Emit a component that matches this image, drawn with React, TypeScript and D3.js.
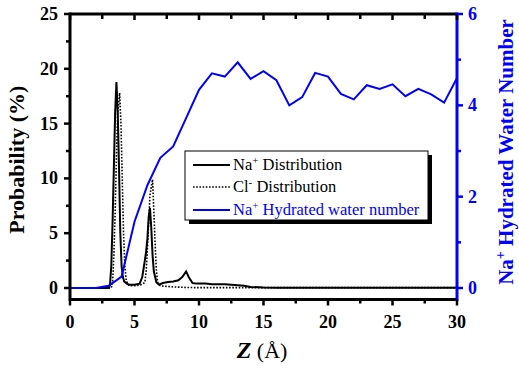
import React from "react";
import * as d3 from "d3";

// ---------- data ----------
const naZ = [0, 3.0, 3.1, 3.2, 3.3, 3.4, 3.5, 3.6, 3.7, 3.8, 3.9, 4.0, 4.1, 4.2, 4.4, 4.6, 5.0, 5.4, 5.6, 5.8, 5.9, 6.0, 6.1, 6.2, 6.3, 6.4, 6.5, 6.6, 6.7, 6.9, 7.2, 7.6, 8.0, 8.4, 8.7, 9.0, 9.2, 9.5, 9.8, 10.5, 11.0, 12.0, 12.5, 13.0, 13.5, 14.0, 15.0, 16.0, 30.0];
const naP = [0, 0, 0.3, 2, 6, 11, 16, 18.8, 16, 11, 5, 2, 1.0, 0.6, 0.4, 0.3, 0.3, 0.4, 1.0, 2.5, 3.3, 4.5, 6.5, 7.3, 5.5, 3, 1.5, 1.0, 0.5, 0.3, 0.45, 0.55, 0.6, 0.7, 1.0, 1.5, 1.0, 0.45, 0.4, 0.4, 0.35, 0.35, 0.3, 0.25, 0.2, 0.1, 0.05, 0.03, 0.03];

const clZ = [0, 3.2, 3.3, 3.4, 3.5, 3.6, 3.7, 3.85, 3.95, 4.05, 4.15, 4.25, 4.35, 4.45, 4.6, 5.0, 5.5, 5.8, 5.9, 6.0, 6.1, 6.2, 6.4, 6.5, 6.6, 6.7, 6.8, 7.0, 8.0, 9.0, 10.0, 30.0];
const clP = [0, 0, 0.5, 3, 7, 12, 16, 17.8, 15, 10, 5, 2, 0.8, 0.4, 0.2, 0.2, 0.3, 0.5, 1.5, 3.5, 6, 8.5, 9.9, 7, 4, 1.5, 0.5, 0.2, 0.1, 0.05, 0.03, 0.03];

const hydZ = [0, 1, 2, 3, 4, 5, 6, 7, 8, 9, 10, 11, 12, 13, 14, 15, 16, 17, 18, 19, 20, 21, 22, 23, 24, 25, 26, 27, 28, 29, 30];
const hydN = [0, 0, 0, 0.05, 0.25, 1.45, 2.25, 2.85, 3.1, 3.72, 4.34, 4.7, 4.63, 4.94, 4.58, 4.75, 4.55, 4.0, 4.18, 4.71, 4.63, 4.25, 4.13, 4.44, 4.36, 4.46, 4.2, 4.36, 4.24, 4.06, 4.6];

const xTicks = [0, 5, 10, 15, 20, 25, 30];
const xMinor = [2.5, 7.5, 12.5, 17.5, 22.5, 27.5];
const yLTicks = [0, 5, 10, 15, 20, 25];
const yLMinor = [2.5, 7.5, 12.5, 17.5, 22.5];
const yRTicks = [0, 2, 4, 6];
const yRMinor = [1, 3, 5];

const BLUE = "#0000ff";
const SERIF = "'Liberation Serif', 'Times New Roman', serif";

export default function App() {
  const x = d3.scaleLinear().domain([0, 30]).range([70, 457]);
  const yL = d3.scaleLinear().domain([0, 25]).range([288, 14]);
  const yR = d3.scaleLinear().domain([0, 6]).range([288, 14]);
  const top = 14;
  const bottom = 299.5;
  const left = x(0);
  const right = x(30);

  const lineL = d3
    .line<[number, number]>()
    .x((d) => x(d[0]))
    .y((d) => yL(d[1]));
  const lineR = d3
    .line<[number, number]>()
    .x((d) => x(d[0]))
    .y((d) => yR(d[1]));

  const naPts = naZ.map((z, i) => [z, naP[i]] as [number, number]);
  const clPts = clZ.map((z, i) => [z, clP[i]] as [number, number]);
  const hydPts = hydZ.map((z, i) => [z, hydN[i]] as [number, number]);

  const lg = { x: 185, y: 151, w: 243, h: 69 };

  return (
    <svg
      width={519}
      height={370}
      style={{ position: "absolute", left: 0, top: 0, background: "#fff" }}
      fontFamily={SERIF}
    >
      <rect x={0} y={0} width={519} height={370} fill="#fff" />
      {/* data lines */}
      <path d={lineL(clPts) || ""} fill="none" stroke="#000" strokeWidth={1.6} strokeDasharray="1.6,1.6" />
      <path d={lineL(naPts) || ""} fill="none" stroke="#000" strokeWidth={2} />
      <path d={lineR(hydPts) || ""} fill="none" stroke={BLUE} strokeWidth={2} />

      {/* frame */}
      <line x1={left} x2={right} y1={top} y2={top} stroke="#000" strokeWidth={3} />
      <line x1={left} x2={right} y1={bottom} y2={bottom} stroke="#000" strokeWidth={3} />
      <line x1={left} x2={left} y1={top - 1.5} y2={bottom + 1.5} stroke="#000" strokeWidth={3} />
      <line x1={right} x2={right} y1={top - 1.5} y2={bottom + 1.5} stroke={BLUE} strokeWidth={3} />

      {/* bottom ticks */}
      {xTicks.map((t) => (
        <g key={"xb" + t}>
          <line x1={x(t)} x2={x(t)} y1={bottom} y2={bottom + 6} stroke="#000" strokeWidth={2.5} />
          <line x1={x(t)} x2={x(t)} y1={top} y2={top + 6} stroke="#000" strokeWidth={2.5} />
          <text x={x(t)} y={328} textAnchor="middle" fontSize={18} fontWeight="bold">
            {t}
          </text>
        </g>
      ))}
      {xMinor.map((t) => (
        <g key={"xm" + t}>
          <line x1={x(t)} x2={x(t)} y1={bottom} y2={bottom + 4} stroke="#000" strokeWidth={2.5} />
          <line x1={x(t)} x2={x(t)} y1={top} y2={top + 5} stroke="#000" strokeWidth={2.5} />
        </g>
      ))}

      {/* left ticks */}
      {yLTicks.map((t) => (
        <g key={"yl" + t}>
          <line x1={left - 6} x2={left} y1={yL(t)} y2={yL(t)} stroke="#000" strokeWidth={2.5} />
          <text x={58} y={yL(t) + 6} textAnchor="end" fontSize={18} fontWeight="bold">
            {t}
          </text>
        </g>
      ))}
      {yLMinor.map((t) => (
        <line key={"ylm" + t} x1={left - 4} x2={left} y1={yL(t)} y2={yL(t)} stroke="#000" strokeWidth={2.5} />
      ))}

      {/* right ticks */}
      {yRTicks.map((t) => (
        <g key={"yr" + t}>
          <line x1={right} x2={right + 6} y1={yR(t)} y2={yR(t)} stroke={BLUE} strokeWidth={2.5} />
          <text x={468} y={yR(t) + 6} textAnchor="start" fontSize={18} fontWeight="bold" fill={BLUE}>
            {t}
          </text>
        </g>
      ))}
      {yRMinor.map((t) => (
        <line key={"yrm" + t} x1={right} x2={right + 4} y1={yR(t)} y2={yR(t)} stroke={BLUE} strokeWidth={2.5} />
      ))}

      {/* axis titles */}
      <text
        transform={`translate(24, ${(top + bottom) / 2 + 3}) rotate(-90)`}
        textAnchor="middle"
        fontSize={22}
        fontWeight="bold"
      >
        Probability (%)
      </text>
      <text x={262} y={358} textAnchor="middle" fontSize={24}>
        <tspan fontWeight="bold" fontStyle="italic">Z</tspan>
        <tspan fontSize={22}> (Å)</tspan>
      </text>
      <text
        transform={`translate(513, 152) rotate(-90)`}
        textAnchor="middle"
        fontSize={21}
        fontWeight="bold"
        fill={BLUE}
      >
        Na<tspan dy={-8} fontSize={14}>+</tspan>
        <tspan dy={8}> Hydrated Water Number</tspan>
      </text>

      {/* legend */}
      <rect x={lg.x + 4} y={lg.y + 4} width={lg.w} height={lg.h} fill="#000" />
      <rect x={lg.x} y={lg.y} width={lg.w} height={lg.h} fill="#fff" stroke="#000" strokeWidth={1} />
      <line x1={193} x2={230} y1={165} y2={165} stroke="#000" strokeWidth={2} />
      <line x1={193} x2={230} y1={187} y2={187} stroke="#000" strokeWidth={1.6} strokeDasharray="1.6,1.6" />
      <line x1={193} x2={230} y1={210} y2={210} stroke={BLUE} strokeWidth={2} />
      <text x={233} y={170} fontSize={16.5}>
        Na<tspan dy={-6} fontSize={11}>+</tspan>
        <tspan dy={6}> Distribution</tspan>
      </text>
      <text x={233} y={192} fontSize={16.5}>
        Cl<tspan dy={-6} fontSize={11}>-</tspan>
        <tspan dy={6}> Distribution</tspan>
      </text>
      <text x={233} y={215} fontSize={16.5} fill={BLUE}>
        Na<tspan dy={-6} fontSize={11}>+</tspan>
        <tspan dy={6}> Hydrated water number</tspan>
      </text>
    </svg>
  );
}
